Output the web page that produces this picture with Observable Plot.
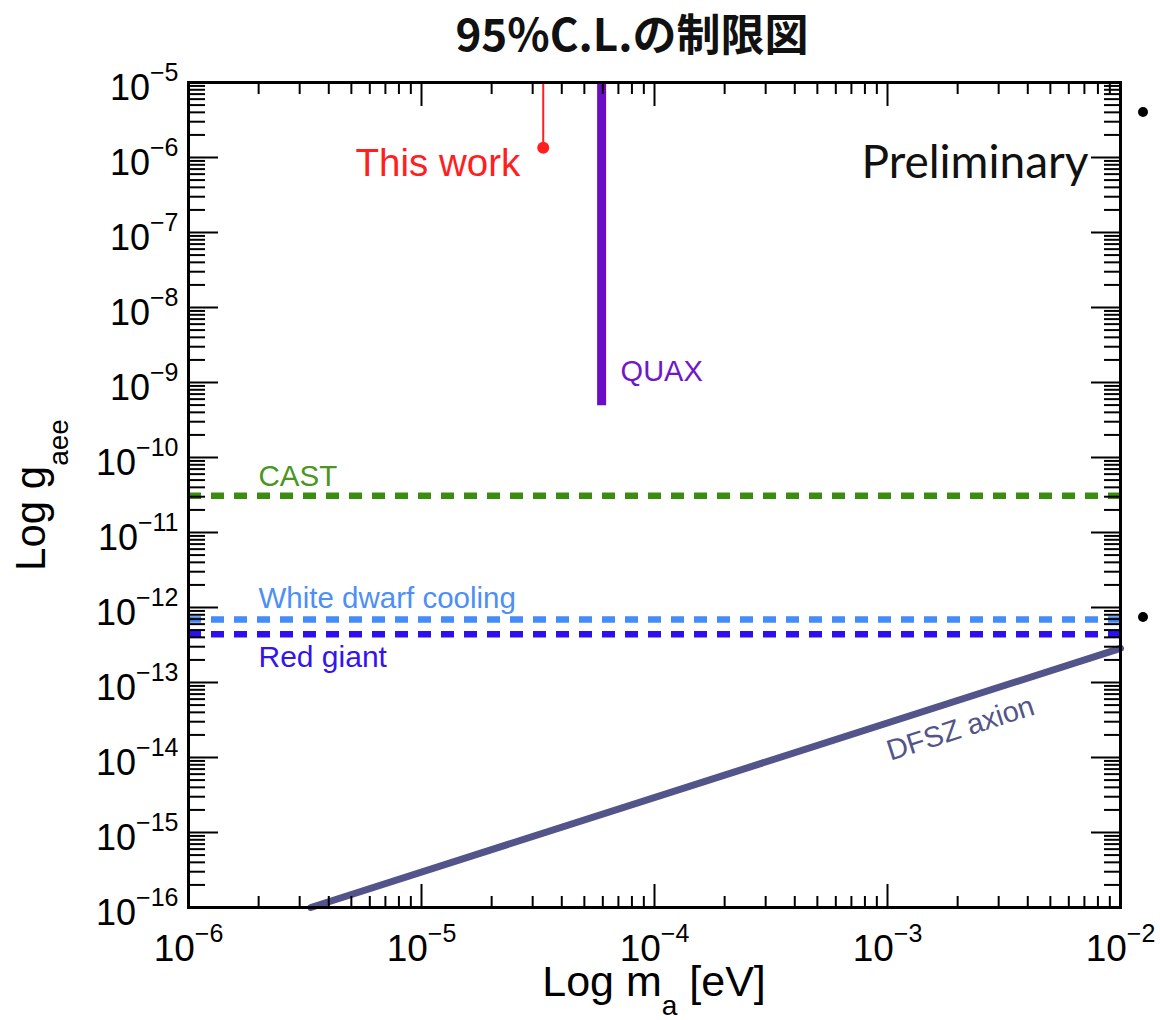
<!DOCTYPE html>
<html>
<head>
<meta charset="utf-8">
<script src="https://cdn.jsdelivr.net/npm/d3@7"></script>
<script src="https://cdn.jsdelivr.net/npm/@observablehq/plot@0.6"></script>
<style>
  body { margin: 0; background: #fff; }
  #wrap { position: relative; width: 1160px; height: 1020px; overflow: hidden; }
  #title {
    height: 60px; line-height: 64px; box-sizing: border-box; padding-left: 104px;
    text-align: center; font-family: "Noto Sans CJK JP"; font-weight: 700; font-size: 44px; color: #111;
  }
  .bullet { position: absolute; width: 10px; height: 10px; border-radius: 50%; background: #000; }
</style>
</head>
<body>
<div id="wrap">
  <div id="title">95%C.L.の制限図</div>
  <div id="chart"></div>
  <div class="bullet" style="left:1138px;top:107px"></div>
  <div class="bullet" style="left:1138px;top:612px"></div>
</div>
<script>
// Axion mass (eV) and electron coupling ranges
const massDomain = [1e-6, 1e-2];
const couplingDomain = [1e-16, 1e-5];
const massMajorTicks = [1e-6, 1e-5, 1e-4, 1e-3, 1e-2];
const couplingMajorTicks = [1e-16, 1e-15, 1e-14, 1e-13, 1e-12, 1e-11, 1e-10, 1e-9, 1e-8, 1e-7, 1e-6, 1e-5];

// Horizontal upper limits on g_aee
const limitNames = ["CAST", "White dwarf cooling", "Red giant"];
const limitCouplings = [3.1e-11, 6.9e-13, 4.4e-13];
const limitColors = ["#3b8d10", "#448cf7", "#2c10f2"];
const limitLabelColors = ["#4a9620", "#4d8ff5", "#3414ee"];
const limitLabelOffsets = [-10, -12, 33];
const limitLabelSizes = [29.5, 29.5, 30];

// This work: excluded above the point
const thisWorkMass = [3.33e-5];
const thisWorkCoupling = [1.35e-6];

// QUAX: excluded above the lower end
const quaxMass = [5.93e-5];
const quaxCoupling = [4.9e-10];

// DFSZ axion line
const dfszMass = [3.35e-6, 1e-2];
const dfszCoupling = [1e-16, 2.85e-13];
const dfszLabelAt = {m: 1.9e-3, g: 5.4e-14};

// minor ticks 2..9 within each decade
const minorTicks = (lo, hi) => {
  const out = [];
  for (let e = lo; e < hi; e++) for (let k = 2; k <= 9; k++) out.push(k * Math.pow(10, e));
  return out;
};
const massMinorTicks = minorTicks(-6, -2);
const couplingMinorTicks = minorTicks(-16, -5);

const limits = limitNames.map((name, i) => ({name, g: limitCouplings[i], color: limitColors[i]}));
const thisWork = thisWorkMass.map((m, i) => ({m, g: thisWorkCoupling[i]}));
const quax = quaxMass.map((m, i) => ({m, g: quaxCoupling[i]}));
const dfsz = dfszMass.map((m, i) => ({m, g: dfszCoupling[i]}));

const labelFont = "Liberation Sans, Arial, sans-serif";
const expFormat = d => "10^" + Math.round(Math.log10(d));

const limitLabels = limits.map((d, i) =>
  Plot.text([d], {x: () => massDomain[0], y: "g", text: "name", fill: limitLabelColors[i],
    textAnchor: "start", lineAnchor: "bottom", dx: 70, dy: limitLabelOffsets[i], fontSize: limitLabelSizes[i]})
);

const chart = Plot.plot({
  width: 1160,
  height: 960,
  marginLeft: 188,
  marginRight: 40,
  marginTop: 22,
  marginBottom: 113,
  style: {fontFamily: labelFont, background: "white", overflow: "visible", color: "#000"},
  x: {type: "log", domain: massDomain},
  y: {type: "log", domain: couplingDomain},
  color: {type: "identity"},
  marks: [
    // limit lines
    Plot.ruleY(limits, {y: "g", stroke: "color", strokeWidth: 6.5, strokeDasharray: "13 10"}),
    Plot.line(dfsz, {x: "m", y: "g", stroke: "#52548a", strokeWidth: 7}),
    Plot.ruleX(quax, {x: "m", y1: "g", y2: couplingDomain[1], stroke: "#6c0cc4", strokeWidth: 9}),
    Plot.ruleX(thisWork, {x: "m", y1: "g", y2: couplingDomain[1], stroke: "#ff1f1f", strokeWidth: 2}),
    Plot.dot(thisWork, {x: "m", y: "g", r: 6, fill: "#ff1f1f"}),

    // annotations
    Plot.text(thisWork, {x: "m", y: "g", text: () => "This work", textAnchor: "end", lineAnchor: "bottom",
      dx: -23, dy: 28, fontSize: 38.5, fill: "#ff1f1f"}),
    Plot.text(quax, {x: "m", y: "g", text: () => "QUAX", textAnchor: "start", lineAnchor: "bottom",
      dx: 19, dy: -25, fontSize: 29, fill: "#7018c8"}),
    ...limitLabels,
    Plot.text(["Preliminary"], {frameAnchor: "top-right", textAnchor: "end", lineAnchor: "bottom",
      dx: -32, dy: 95, fontSize: 46, fontFamily: "Lato", fill: "#111"}),
    Plot.text([dfszLabelAt], {x: "m", y: "g", text: () => "DFSZ axion", rotate: -17.8,
      dx: 8, dy: 26, fontSize: 29, fill: "#52548a"}),

    // inward ticks on all four sides
    Plot.axisX({anchor: "bottom", ticks: massMinorTicks, tickSize: -11, strokeWidth: 2, fill: "none", label: null}),
    Plot.axisX({anchor: "bottom", ticks: massMajorTicks, tickSize: -23, strokeWidth: 2, fill: "none", label: null}),
    Plot.axisX({anchor: "top", ticks: massMinorTicks, tickSize: -11, strokeWidth: 2, fill: "none", label: null}),
    Plot.axisX({anchor: "top", ticks: massMajorTicks, tickSize: -23, strokeWidth: 2, fill: "none", label: null}),
    Plot.axisY({anchor: "left", ticks: couplingMinorTicks, tickSize: -17, strokeWidth: 2, fill: "none", label: null}),
    Plot.axisY({anchor: "left", ticks: couplingMajorTicks, tickSize: -30, strokeWidth: 2, fill: "none", label: null}),
    Plot.axisY({anchor: "right", ticks: couplingMinorTicks, tickSize: -17, strokeWidth: 2, fill: "none", label: null}),
    Plot.axisY({anchor: "right", ticks: couplingMajorTicks, tickSize: -30, strokeWidth: 2, fill: "none", label: null}),

    // tick labels
    Plot.axisX({anchor: "bottom", ticks: massMajorTicks, tickSize: 0, tickPadding: 27, tickFormat: expFormat,
      fontSize: 37, label: null}),
    Plot.axisY({anchor: "left", ticks: couplingMajorTicks, tickSize: 0, tickPadding: 10, tickFormat: expFormat,
      fontSize: 36, dy: 6, label: null}),

    Plot.frame({stroke: "#000", strokeWidth: 3})
  ]
});

document.getElementById("chart").appendChild(chart);

// power-of-ten tick labels with raised exponents
d3.select(chart).selectAll("g[aria-label='x-axis tick label'] text, g[aria-label='y-axis tick label'] text").each(function () {
  const [base, exp] = this.textContent.split("^");
  if (exp === undefined) return;
  this.textContent = "";
  const b = document.createElementNS("http://www.w3.org/2000/svg", "tspan");
  b.textContent = base;
  const e = document.createElementNS("http://www.w3.org/2000/svg", "tspan");
  e.setAttribute("font-size", "25");
  e.setAttribute("dy", "-19");
  e.textContent = exp.replace("-", "\u2212");
  this.appendChild(b);
  this.appendChild(e);
});

// axis titles with subscripts
const svg = d3.select(chart);
const xl = svg.append("text").attr("x", 654).attr("y", 936).attr("text-anchor", "middle")
  .attr("font-family", labelFont).attr("font-size", 43).attr("fill", "#000");
xl.append("tspan").text("Log m");
xl.append("tspan").attr("font-size", 28).attr("dy", 19).text("a");
xl.append("tspan").attr("dy", -19).text(" [eV]");

const yl = svg.append("text").attr("transform", "translate(45,435) rotate(-90)").attr("text-anchor", "middle")
  .attr("font-family", labelFont).attr("font-size", 42).attr("fill", "#000");
yl.append("tspan").text("Log g");
yl.append("tspan").attr("font-size", 28).attr("dy", 23).text("aee");
</script>
</body>
</html>
